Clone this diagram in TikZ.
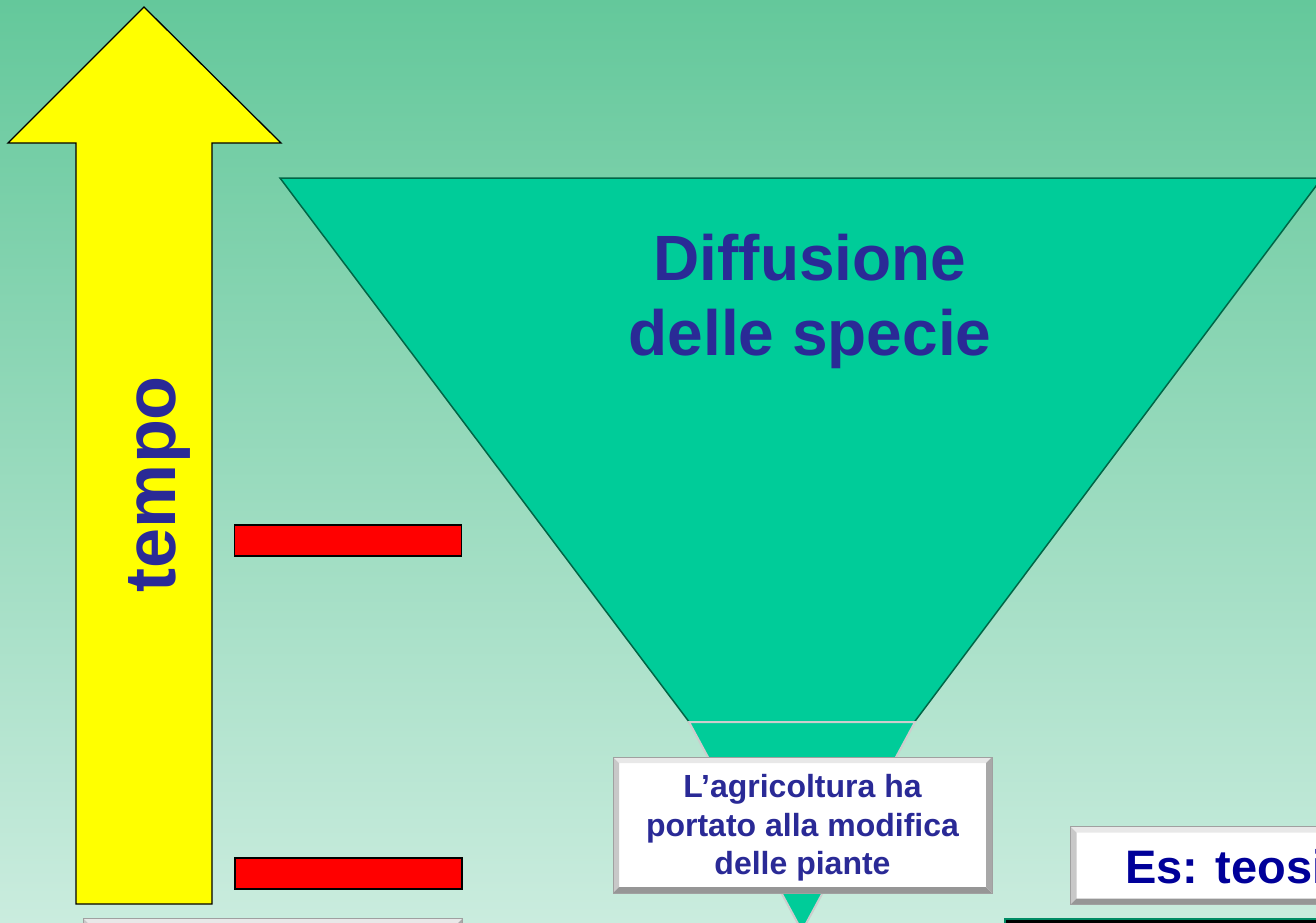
\documentclass[tikz,border=0pt]{standalone}
\usepackage{fontspec}
\setmainfont{Liberation Sans}
\usetikzlibrary{calc}
\definecolor{bgtop}{RGB}{100,200,155}
\definecolor{bgbot}{RGB}{202,236,222}
\definecolor{trifill}{RGB}{0,204,153}
\definecolor{triline}{RGB}{0,102,70}
\definecolor{neckline}{RGB}{205,205,205}
\definecolor{txtblue}{RGB}{42,42,150}
\definecolor{esblue}{RGB}{0,0,153}
\definecolor{arrowyellow}{RGB}{255,255,0}
\definecolor{barred}{RGB}{255,0,0}
\definecolor{bevT}{RGB}{232,232,232}
\definecolor{bevL}{RGB}{200,200,200}
\definecolor{bevB}{RGB}{150,150,150}
\definecolor{bevR}{RGB}{168,168,168}
\definecolor{bevline}{RGB}{160,160,160}
\definecolor{blkline}{RGB}{0,140,100}
\tikzset{
  bevelbox/.style={rectangle, fill=white, draw=bevline, line width=1, inner sep=0pt,
    path picture={
      \coordinate (pNW) at (path picture bounding box.north west);
      \coordinate (pNE) at (path picture bounding box.north east);
      \coordinate (pSW) at (path picture bounding box.south west);
      \coordinate (pSE) at (path picture bounding box.south east);
      \fill[bevT] (pNW) -- (pNE) -- ($(pNE)+(-6,6)$) -- ($(pNW)+(6,6)$) -- cycle;
      \fill[bevL] (pNW) -- ($(pNW)+(6,6)$) -- ($(pSW)+(6,-6)$) -- (pSW) -- cycle;
      \fill[bevB] (pSW) -- (pSE) -- ($(pSE)+(-6,-6)$) -- ($(pSW)+(6,-6)$) -- cycle;
      \fill[bevR] (pNE) -- (pSE) -- ($(pSE)+(-6,-6)$) -- ($(pNE)+(-6,6)$) -- cycle;
    }},
  redbar/.style={rectangle, fill=barred, draw=black, line width=1.3, inner sep=0pt,
    minimum width=227, minimum height=31},
  bigtext/.style={text=txtblue, font=\bfseries\fontsize{64}{76}\selectfont, inner sep=0pt},
  boxtext/.style={text=txtblue, font=\bfseries\fontsize{32}{38.5}\selectfont, align=center},
}
\begin{document}
\begin{tikzpicture}[x=1pt,y=-1pt]
\useasboundingbox (0,0) rectangle (1316,922);
\clip (0,0) rectangle (1316,922);
\shade[top color=bgtop,bottom color=bgbot] (0,0) rectangle (1316,922);

% yellow time arrow
\draw[fill=arrowyellow, line width=1.3, line join=miter]
  (144,7) -- (281,143) -- (212,143) -- (212,904) -- (76,904) -- (76,143) -- (8,143) -- cycle;
\node[bigtext, font=\bfseries\fontsize{72}{86}\selectfont, rotate=90, anchor=base] (tempo) at (175,484) {tempo};

% red bars
\node[redbar] (bar1) at (348,540.5) {};
\node[redbar] (bar2) at (348.5,873.5) {};

% funnel
\draw[fill=trifill, draw=triline, line width=1.5] (280,178) -- (1322,178) -- (802,872) -- cycle;
\draw[fill=trifill, draw=neckline, line width=2] (689,722) -- (915,722) -- (802,931) -- cycle;
\node[bigtext, anchor=base] (diff1) at (810,280) {Diffusione};
\node[bigtext, anchor=base] (diff2) at (810,355) {delle specie};

% central box
\node[bevelbox, minimum width=379, minimum height=136] (agri) at (802.5,825) {};
\node[boxtext] (agritext) at (802.5,828) {L’agricoltura ha\\portato alla modifica\\delle piante};

% example box (cut by the page edge)
\node[bevelbox, minimum width=330, minimum height=78, anchor=north west] (esbox) at (1070,826) {};
\node[text=esblue, font=\bfseries\fontsize{47}{56}\selectfont, anchor=base west, inner sep=0pt] (estext) at (1125,883) {Es: teosi};

% lower boxes (cut by the page edge)
\node[bevelbox, minimum width=379, minimum height=80, anchor=north west] (lowleft) at (83,918) {};
\node[rectangle, fill=black, draw=blkline, line width=2, minimum width=340, minimum height=80, anchor=north west] (lowright) at (1004,918) {};
\end{tikzpicture}
\end{document}
